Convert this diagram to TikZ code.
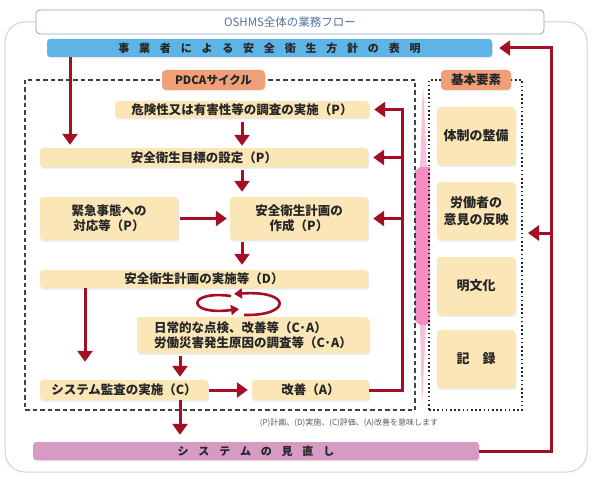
\documentclass[tikz,border=0pt]{standalone}
\usepackage{fontspec}
\setmainfont{Noto Sans CJK JP}
\usetikzlibrary{arrows.meta,shadows,calc}
\definecolor{jred}{RGB}{165,15,35}
\definecolor{boxfill}{RGB}{251,230,184}
\definecolor{barblue}{RGB}{95,180,230}
\definecolor{barpink}{RGB}{215,155,195}
\definecolor{lblsalmon}{RGB}{239,160,120}
\definecolor{brpink}{RGB}{245,140,195}
\definecolor{framec}{RGB}{200,210,222}
\definecolor{titleb}{RGB}{140,165,192}
\definecolor{titlet}{RGB}{85,115,155}
\newcommand\gapj{\hspace{9.8pt}}
\newcommand\jbf{\fontsize{12.5}{15}\selectfont\bfseries}
\begin{document}
\begin{tikzpicture}[x=1pt,y=-1pt,
  jbox/.style={fill=boxfill, rounded corners=3pt, inner sep=0pt, align=center, font=\jbf, text=black!85,
    drop shadow={shadow xshift=1pt,shadow yshift=-1.5pt,opacity=0.18}},
  rbox/.style={jbox, font=\fontsize{13}{17}\selectfont\bfseries, minimum width=78pt, minimum height=58pt},
  barbox/.style={rounded corners=3pt, inner sep=0pt, font=\fontsize{11}{13}\selectfont\bfseries, text=black!85,
    drop shadow={shadow xshift=1pt,shadow yshift=-1.5pt,opacity=0.18}},
  lbl/.style={fill=lblsalmon, rounded corners=4pt, inner sep=0pt, font=\fontsize{11.5}{13}\selectfont\bfseries, text=black!85,
    drop shadow={shadow xshift=0.8pt,shadow yshift=-1pt,opacity=0.15}},
  arr/.style={draw=jred, line width=3pt, -{Triangle[length=11pt,width=15pt]}},
  cyc/.style={draw=jred, line width=2.6pt, -{Triangle[length=8pt,width=10pt]}}
]
\useasboundingbox (0,0) rectangle (599,476);
% outer frame
\draw[framec, line width=1pt, rounded corners=20pt] (5,22) rectangle (587,472);
% title
\node[draw=titleb, line width=0.8pt, fill=white, rounded corners=4pt, minimum width=508pt, minimum height=24pt,
  inner sep=0pt, font=\fontsize{11.5}{13}\selectfont, text=titlet] (title) at (290,22) {OSHMS全体の業務フロー};
% policy bar
\node[barbox, fill=barblue, minimum width=445pt, minimum height=18pt] (policy) at (269.5,48)
  {事\gapj 業\gapj 者\gapj に\gapj よ\gapj る\gapj 安\gapj 全\gapj 衛\gapj 生\gapj 方\gapj 針\gapj の\gapj 表\gapj 明};
% pink brace shape: faint thin tips, bright middle
\fill[brpink!55] (423,83) -- (427,168) -- (420,168) -- cycle;
\fill[brpink!55] (420,323) -- (426,323) -- (422,408) -- cycle;
\fill[brpink] (420,167) -- (430,167) -- (430,323) -- (425,325)
  -- (420,325) -- (415,321) -- (415,171) -- cycle;
% dashed and dotted frames
\node[draw=black!75, line width=1.1pt, dash pattern=on 4.5pt off 3pt, minimum width=390pt, minimum height=330pt,
  inner sep=0pt] (pbox) at (220,245) {};
\node[draw=black!85, line width=1.6pt, dash pattern=on 1.6pt off 2.6pt, minimum width=93pt, minimum height=330pt,
  inner sep=0pt] (kbox) at (475.5,245) {};
% labels
\node[lbl, minimum width=103pt, minimum height=20pt] (pdca) at (213.5,80) {PDCAサイクル};
\node[lbl, minimum width=70pt, minimum height=20pt, font=\fontsize{12.5}{14}\selectfont\bfseries] (kihon) at (476,80) {基本要素};
% PDCA boxes
\node[jbox, minimum width=254pt, minimum height=17pt] (kiken) at (242,109.5) {危険性又は有害性等の調査の実施（P）};
\node[jbox, minimum width=328pt, minimum height=19pt] (mokuhyo) at (204,157.5) {安全衛生目標の設定（P）};
\node[jbox, minimum width=138pt, minimum height=43pt] (kinkyu) at (109,218.5) {緊急事態への\\対応等（P）};
\node[jbox, minimum width=138pt, minimum height=43pt] (sakusei) at (299,218.5) {安全衛生計画の\\作成（P）};
\node[jbox, minimum width=328pt, minimum height=18pt] (jisshi) at (204,279) {安全衛生計画の実施等（D）};
\node[jbox, minimum width=232pt, minimum height=36pt, align=left] (nichijo) at (253,335)
  {日常的な点検、改善等（C·A）\\労働災害発生原因の調査等（C·A）};
\node[jbox, minimum width=168pt, minimum height=20pt] (kansa) at (124,390) {システム監査の実施（C）};
\node[jbox, minimum width=117pt, minimum height=20pt] (kaizen) at (310.5,390) {改善（A）};
% review bar
\node[barbox, fill=barpink, minimum width=446pt, minimum height=18pt] (minaoshi) at (256,451)
  {シ\gapj ス\gapj テ\gapj ム\gapj の\gapj 見\gapj 直\gapj し};
% basic elements
\node[rbox] (taisei) at (476,136) {体制の整備};
\node[rbox] (rodosha) at (476,211) {労働者の\\意見の反映};
\node[rbox] (meibun) at (476,286) {明文化};
\node[rbox] (kiroku) at (476,359) {記\hspace{13pt}録};
% note
\node[inner sep=0pt, font=\fontsize{8}{10}\selectfont, text=black!65] (note) at (349,423)
  {(P)計画、(D)実施、(C)評価、(A)改善を意味します};
% helper coordinates
\coordinate (la) at (70,0);
\coordinate (lb) at (85,0);
\coordinate (lc) at (180,0);
\coordinate (ld) at (242,0);
\coordinate (rl) at (402,0);
\coordinate (ol) at (551,0);
\coordinate (kin) at (528,233);
% connectors
\draw[arr, shorten >=3pt] (policy.south -| la) -- (mokuhyo.north -| la);
\draw[arr, shorten <=4pt, shorten >=2pt] (kiken.south -| ld) -- (mokuhyo.north -| ld);
\draw[arr, shorten <=3pt, shorten >=5pt] (mokuhyo.south -| ld) -- (sakusei.north -| ld);
\draw[arr, shorten <=2pt, shorten >=3pt] (kinkyu.east) -- (sakusei.west |- kinkyu.east);
\draw[arr, shorten <=2pt, shorten >=5pt] (sakusei.south -| ld) -- (jisshi.north -| ld);
\draw[arr, shorten >=18pt] (jisshi.south -| lb) -- (kansa.north -| lb);
\draw[arr, shorten <=3pt, shorten >=3pt] (nichijo.south -| lc) -- (kansa.north -| lc);
\draw[arr, shorten <=1pt, shorten >=4pt] (kansa.east) -- (kaizen.west);
\draw[arr, shorten >=7pt] (kansa.south -| lc) -- (minaoshi.north -| lc);
\draw[arr, shorten >=5pt] (kaizen.east) -| (rl |- kiken.east) -- (kiken.east);
\draw[arr, shorten >=5pt] (rl |- mokuhyo.east) -- (mokuhyo.east);
\draw[arr, shorten >=5pt] (rl |- sakusei.east) -- (sakusei.east);
\draw[arr, shorten >=7pt] (minaoshi.east) -| (ol |- policy.east) -- (policy.east);
\draw[arr] (ol |- kin) -- (kin);
% cycle arrows
\draw[cyc] (231,296) .. controls (186,290) and (186,316) .. (239,309);
\draw[cyc] (244,315) .. controls (292,316) and (292,290) .. (234,294);
\end{tikzpicture}
\end{document}
